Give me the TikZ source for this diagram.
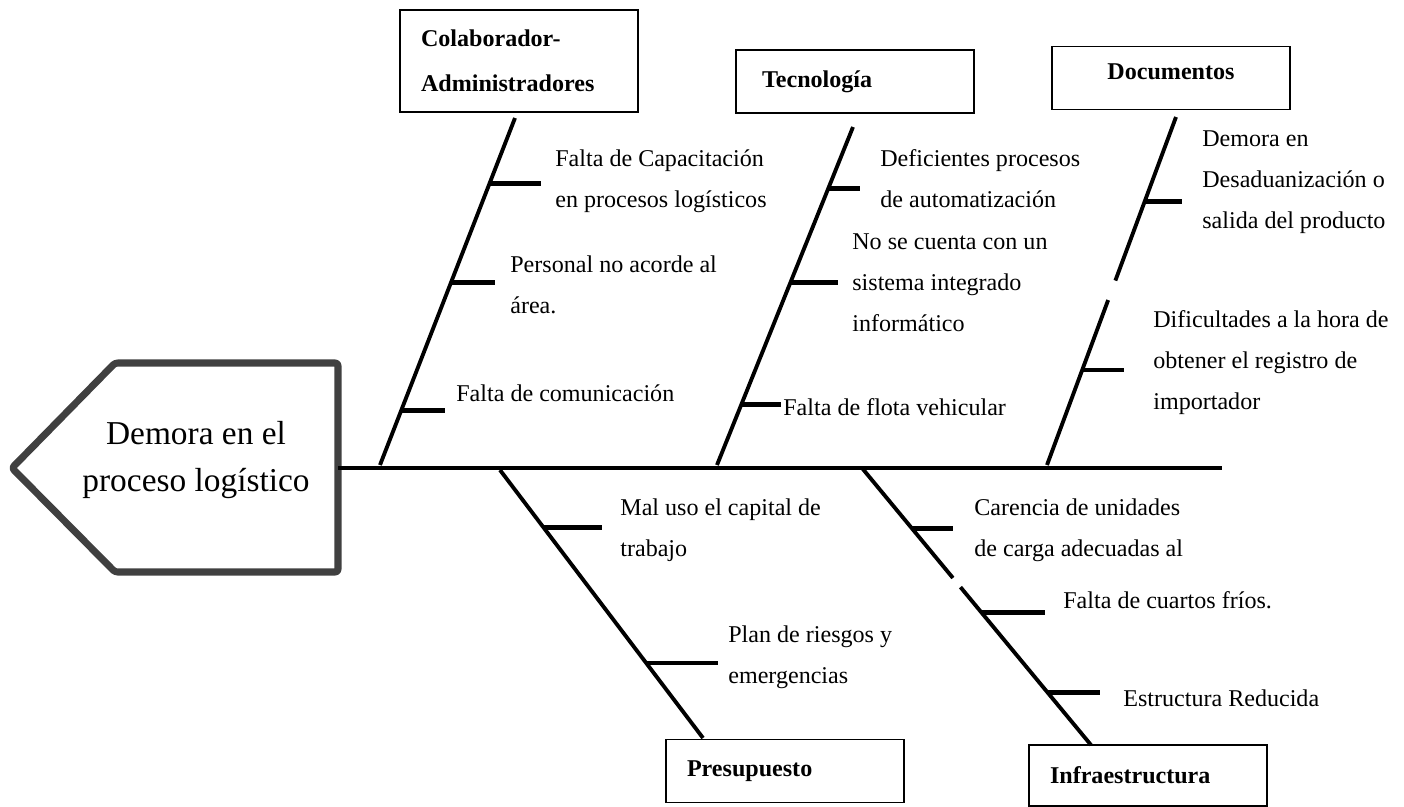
\documentclass[tikz,border=0pt]{standalone}
\usepackage{fontspec}
\setmainfont{Liberation Serif}
\usetikzlibrary{positioning, calc}
\definecolor{headgray}{RGB}{64, 64, 64}
\tikzset{
  catbox/.style={rectangle, draw=black, line width=0.7pt, minimum width=4.76cm,
              minimum height=#1, text width=3.92cm, inner xsep=0.42cm, inner ysep=0pt,
              align=left, font=\bfseries\fontsize{13.7pt}{25.6pt}\selectfont},
  catbox/.default=1.26cm,
  cause/.style={anchor=west, align=left, inner sep=0pt,
              font=\fontsize{13.7pt}{23.3pt}\selectfont},
  headline/.style={draw=headgray, line width=4pt, line join=round, rounded corners=1.5pt},
  spine/.style={line width=2.3pt},
  bone/.style={line width=2.2pt},
  rib/.style={line width=2.8pt},
}

\begin{document}
\begin{tikzpicture}[x=0.02cm, y=-0.02cm]
  \useasboundingbox (0,0) rectangle (1404,806);

  % head of the fish
  \draw[headline] (338,363) -- (115,363) -- (12,468) -- (115,572) -- (338,572) -- cycle;
  \node[align=center, inner sep=0pt, font=\fontsize{19pt}{26.5pt}\selectfont] (head) at (196,460)
        {Demora en el\\proceso logístico};
  \coordinate (spine_l) at (338,468);
  \coordinate (spine_r) at (1222,468);
  \draw[spine] (spine_l) -- (spine_r);

  % category boxes
  \node[catbox=2.04cm] (colab_b) at (519,61) {Colaborador-\\Administradores};
  \node[catbox] (tec_b) at (855,81.5) {\hspace*{0.1cm}Tecnología};
  \node[catbox, align=center] (doc_b) at (1171,78) {\raisebox{0.24cm}{Documentos}};
  \node[catbox] (pres_b) at (785,771) {Presupuesto};
  \node[catbox=1.22cm] (infra_b) at (1148,775.5) {Infraestructura};

  % bones
  \coordinate (colab_t) at (515,118);  \coordinate (colab_s) at (380,465);
  \coordinate (tec_t) at (853,127);    \coordinate (tec_s) at (717,465);
  \coordinate (doc_t) at (1176,117);   \coordinate (doc_s) at (1047,465);
  \coordinate (pres_s) at (500,470);   \coordinate (pres_t) at (703,738);
  \coordinate (infra_s) at (862,468);  \coordinate (infra_t) at (1091,745);

  \draw[bone] (colab_t) -- (colab_s);
  \draw[bone] (tec_t) -- (tec_s);
  \draw[bone] (doc_t) -- ($(doc_t)!0.47!(doc_s)$);
  \draw[bone] ($(doc_t)!0.526!(doc_s)$) -- (doc_s);
  \draw[bone] (pres_s) -- (pres_t);
  \draw[bone] (infra_s) -- ($(infra_s)!0.397!(infra_t)$);
  \draw[bone] ($(infra_s)!0.43!(infra_t)$) -- (infra_t);

  % ribs
  \draw[rib] ($(colab_t)!0.19!(colab_s)$) -- ++(52,0);
  \draw[rib] ($(colab_t)!0.473!(colab_s)$) -- ++(44,0);
  \draw[rib] ($(colab_t)!0.844!(colab_s)$) -- ++(44,0);
  \draw[rib] ($(tec_t)!0.183!(tec_s)$) -- ++(32,0);
  \draw[rib] ($(tec_t)!0.459!(tec_s)$) -- ++(47,0);
  \draw[rib] ($(tec_t)!0.82!(tec_s)$) -- ++(40,0);
  \draw[rib] ($(doc_t)!0.244!(doc_s)$) -- ++(37,0);
  \draw[rib] ($(doc_t)!0.727!(doc_s)$) -- ++(42,0);
  \draw[rib] ($(pres_s)!0.216!(pres_t)$) -- ++(58,0);
  \draw[rib] ($(pres_s)!0.72!(pres_t)$) -- ++(72,0);
  \draw[rib] ($(infra_s)!0.22!(infra_t)$) -- ++(41,0);
  \draw[rib] ($(infra_s)!0.52!(infra_t)$) -- ++(64,0);
  \draw[rib] ($(infra_s)!0.812!(infra_t)$) -- ++(52,0);

  % causes
  \node[cause] (colab_1) at (555,181) {Falta de Capacitación\\en procesos logísticos};
  \node[cause] (colab_2) at (510,285) {Personal no acorde al\\área.};
  \node[cause] (colab_3) at (456,393) {Falta de comunicación};
  \node[cause] (tec_1) at (880,179) {Deficientes procesos\\de automatización};
  \node[cause] (tec_2) at (852,283) {No se cuenta con un\\sistema integrado\\informático};
  \node[cause] (tec_3) at (783,407) {Falta de flota vehicular};
  \node[cause] (doc_1) at (1202,182) {Demora en\\Desaduanización o\\salida del producto};
  \node[cause] (doc_2) at (1153,363) {Dificultades a la hora de\\obtener el registro de\\importador};
  \node[cause] (pres_1) at (620,530) {Mal uso el capital de\\trabajo};
  \node[cause] (pres_2) at (728,657) {Plan de riesgos y\\emergencias};
  \node[cause] (infra_1) at (974,530) {Carencia de unidades\\de carga adecuadas al};
  \node[cause] (infra_2) at (1063,600) {Falta de cuartos fríos.};
  \node[cause] (infra_3) at (1123,698) {Estructura Reducida};
\end{tikzpicture}
\end{document}
